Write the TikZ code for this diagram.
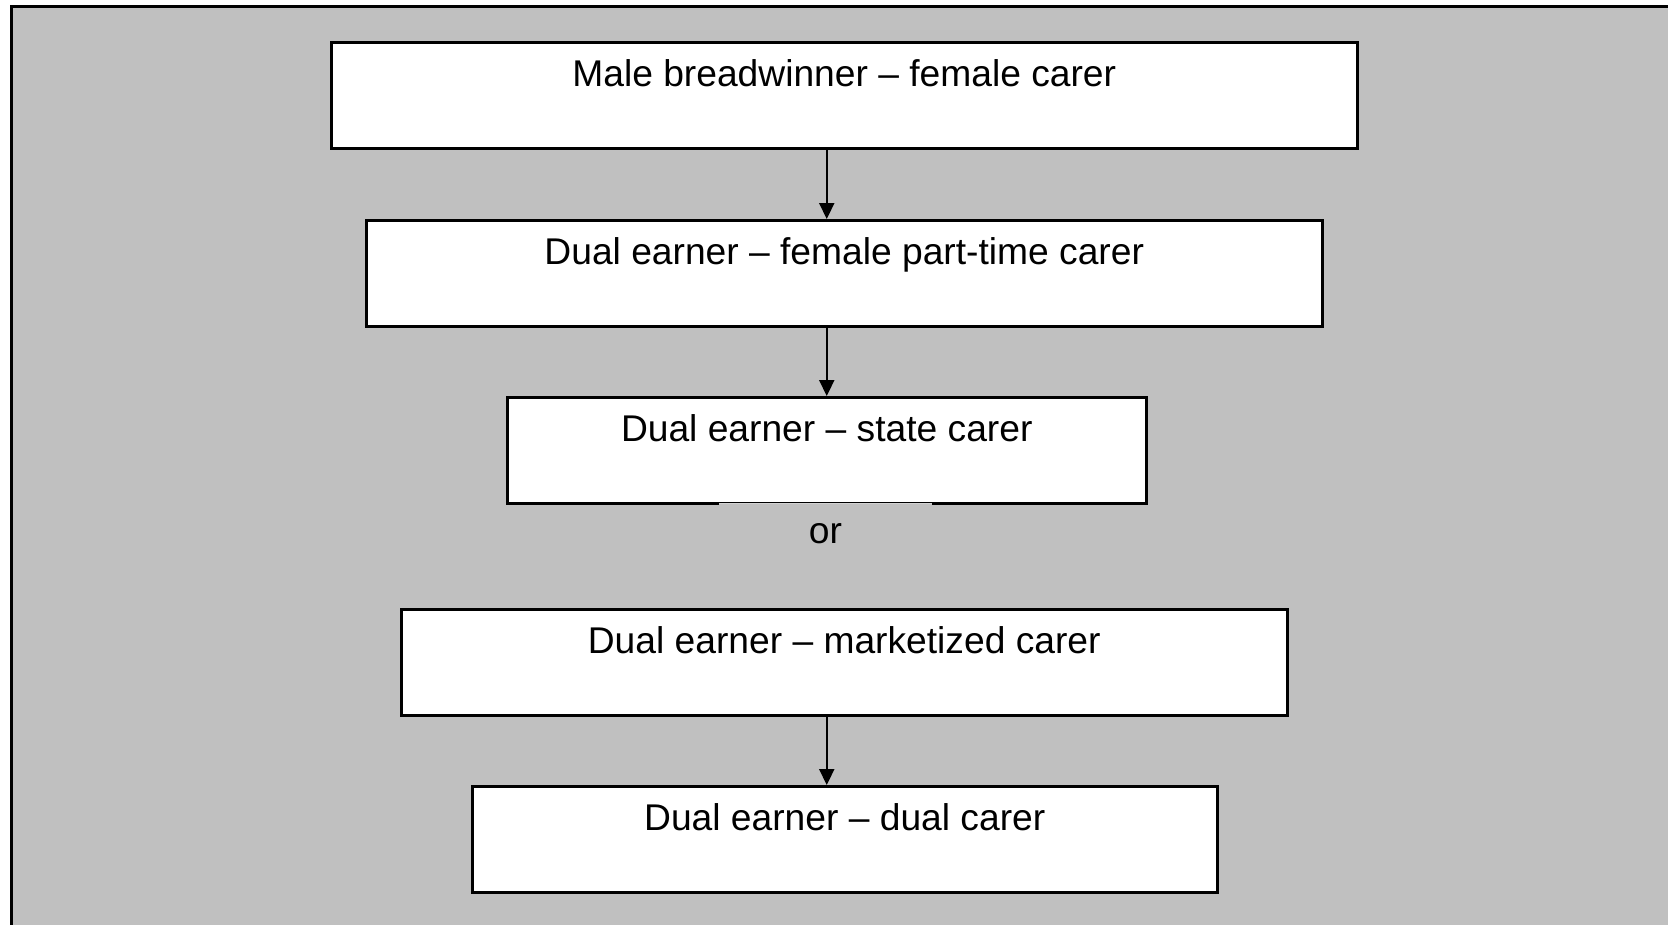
\documentclass[tikz,border=0pt]{standalone}
\usepackage{fontspec}
\setmainfont{Liberation Sans}
\usetikzlibrary{arrows.meta}
\definecolor{bggray}{HTML}{C0C0C0}
\definecolor{gapgray}{HTML}{D2D2D2}
\tikzset{
  box/.style={draw=black, line width=2.5pt, fill=white, inner xsep=0pt, inner ysep=0pt,
    text height=44pt, text depth=62pt, anchor=north west,
    font=\fontsize{37.2}{44}\selectfont},
  arr/.style={line width=2.2pt, -{Triangle[length=16pt,width=15pt]}},
  plain/.style={font=\fontsize{37.2}{44}\selectfont, inner sep=0pt}
}
\begin{document}
\begin{tikzpicture}[x=1pt,y=-1pt]
\useasboundingbox (0,0) rectangle (1668,924);
\clip (0,0) rectangle (1668,924);
\fill[white] (0,0) rectangle (1668,924);
\draw[line width=3pt, fill=bggray] (11,6) rectangle (1690,950);
\node[box, minimum width=1026pt] (b1) at (330,41) {Male breadwinner -- female carer};
\node[box, minimum width=956pt] (b2) at (365,219) {Dual earner -- female part-time carer};
\node[box, minimum width=639pt] (b3) at (506,396) {Dual earner -- state carer};
\node[box, minimum width=886pt] (b4) at (400,608) {Dual earner -- marketized carer};
\node[box, minimum width=745pt] (b5) at (471,785) {Dual earner -- dual carer};
\coordinate (g1) at ([xshift=213pt]b3.south west);
\coordinate (g2) at ([xshift=426pt]b3.south west);
\draw[line width=3.5pt, bggray] (g1) -- (g2);
\draw[line width=0.8pt, gapgray] ([yshift=1pt]g1) -- ([yshift=1pt]g2);
\node[plain, anchor=base] (or) at (825.5,543) {or};
\coordinate (ax) at (b3.center);
\draw[arr] (b1.south -| ax) -- (b2.north -| ax);
\draw[arr] (b2.south -| ax) -- (b3.north -| ax);
\draw[arr] (b4.south -| ax) -- (b5.north -| ax);
\end{tikzpicture}
\end{document}
